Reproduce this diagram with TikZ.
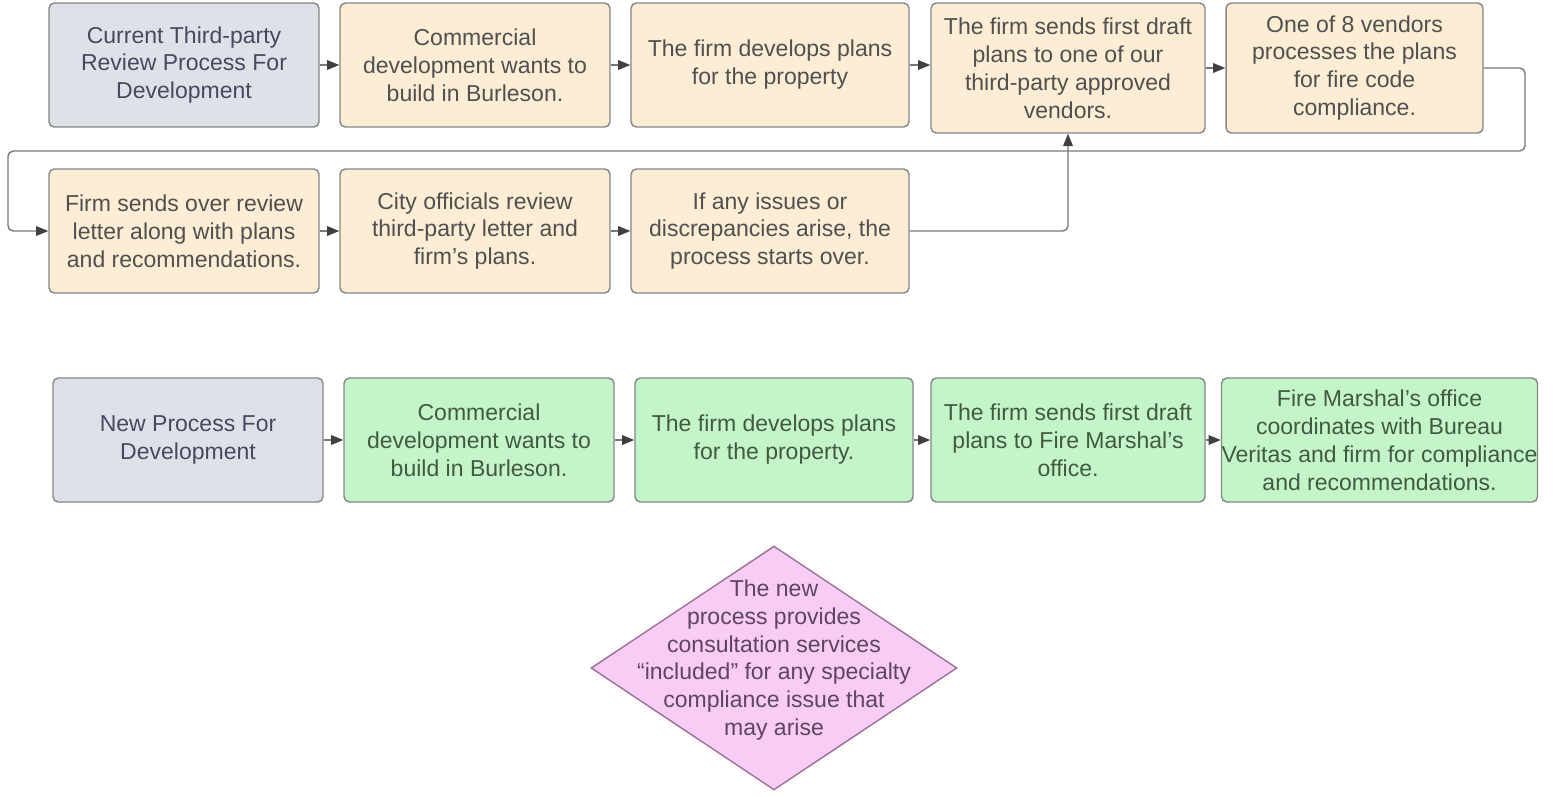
\documentclass[tikz,border=0pt]{standalone}
\usepackage{fontspec}
\setmainfont{Liberation Sans}
\usetikzlibrary{arrows.meta,shapes.geometric}
\definecolor{headfill}{HTML}{DFE1E8}
\definecolor{oldfill}{HTML}{FCEDD4}
\definecolor{newfill}{HTML}{C4F5C8}
\definecolor{notefill}{HTML}{F8CCF4}
\definecolor{boxline}{HTML}{858585}
\definecolor{noteline}{HTML}{9A7196}
\definecolor{oldtext}{HTML}{505050}
\definecolor{newtext}{HTML}{425942}
\definecolor{notetext}{HTML}{5E4560}
\tikzset{
  procbox/.style={draw=boxline, line width=0.8pt, rounded corners=3pt, align=center,
    minimum width=5.4cm, minimum height=2.48cm, inner sep=2pt,
    font=\fontsize{13.1}{15.9}\selectfont},
  headbox/.style={procbox, fill=headfill, text=oldtext!90!blue},
  oldbox/.style={procbox, fill=oldfill, text=oldtext},
  newbox/.style={procbox, fill=newfill, text=newtext},
  notebox/.style={diamond, draw=noteline, line width=0.8pt, fill=notefill,
    minimum width=7.32cm, minimum height=4.88cm, inner sep=0pt},
  flow/.style={draw=boxline!90!black, line width=0.8pt,
    -{Triangle[length=7pt,width=5.5pt,color=black!75]}}
}
\begin{document}
\begin{tikzpicture}[x=0.02cm, y=-0.02cm]
\useasboundingbox (0,0) rectangle (1567,796);
\node[headbox] (b1) at (184,65) {Current Third-party\\Review Process For\\Development};
\node[oldbox] (b2) at (475,65) {Commercial\\development wants to\\build in Burleson.};
\node[oldbox, minimum width=5.56cm] (b3) at (770,65) {The firm develops plans\\for the property};
\node[oldbox, minimum width=5.48cm, minimum height=2.6cm] (b4) at (1068,68) {The firm sends first draft\\plans to one of our\\third-party approved\\vendors.};
\node[oldbox, minimum width=5.14cm, minimum height=2.6cm] (b5) at (1354.5,68) {One of 8 vendors\\processes the plans\\for fire code\\compliance.};
\node[oldbox] (b6) at (184,231) {Firm sends over review\\letter along with plans\\and recommendations.};
\node[oldbox] (b7) at (475,231) {City officials review\\third-party letter and\\firm's plans.};
\node[oldbox, minimum width=5.56cm] (b8) at (770,231) {If any issues or\\discrepancies arise, the\\process starts over.};
\coordinate (loopR) at (1525,151);
\coordinate (loopL) at (8,151);
\draw[flow] (b1) -- (b2);
\draw[flow] (b2) -- (b3);
\draw[flow] (b3.east) -- (b3.east -| b4.west);
\draw[flow] (b4) -- (b5);
\draw[flow, rounded corners=3pt] (b5.east) -| (loopR) -- (loopL) |- (b6.west);
\draw[flow] (b6) -- (b7);
\draw[flow] (b7) -- (b8);
\draw[flow, rounded corners=3pt] (b8.east) -| (b4.south);
\node[headbox] (n1) at (188,440) {New Process For\\Development};
\node[newbox] (n2) at (479,440) {Commercial\\development wants to\\build in Burleson.};
\node[newbox, minimum width=5.56cm] (n3) at (774,440) {The firm develops plans\\for the property.};
\node[newbox, minimum width=5.48cm] (n4) at (1068,440) {The firm sends first draft\\plans to Fire Marshal's\\office.};
\node[newbox, minimum width=6.3cm, inner xsep=0pt] (n5) at (1379.5,440) {Fire Marshal's office\\coordinates with Bureau\\Veritas and firm for compliance\\and recommendations.};
\draw[flow] (n1) -- (n2);
\draw[flow] (n2) -- (n3);
\draw[flow] (n3) -- (n4);
\draw[flow] (n4) -- (n5);
\node[notebox] (note) at (774,668) {};
\node[align=center, text=notetext, font=\fontsize{13.1}{15.9}\selectfont] (notetxt) at (774,660)
  {The new\\process provides\\consultation services\\``included'' for any specialty\\compliance issue that\\may arise};
\end{tikzpicture}
\end{document}
